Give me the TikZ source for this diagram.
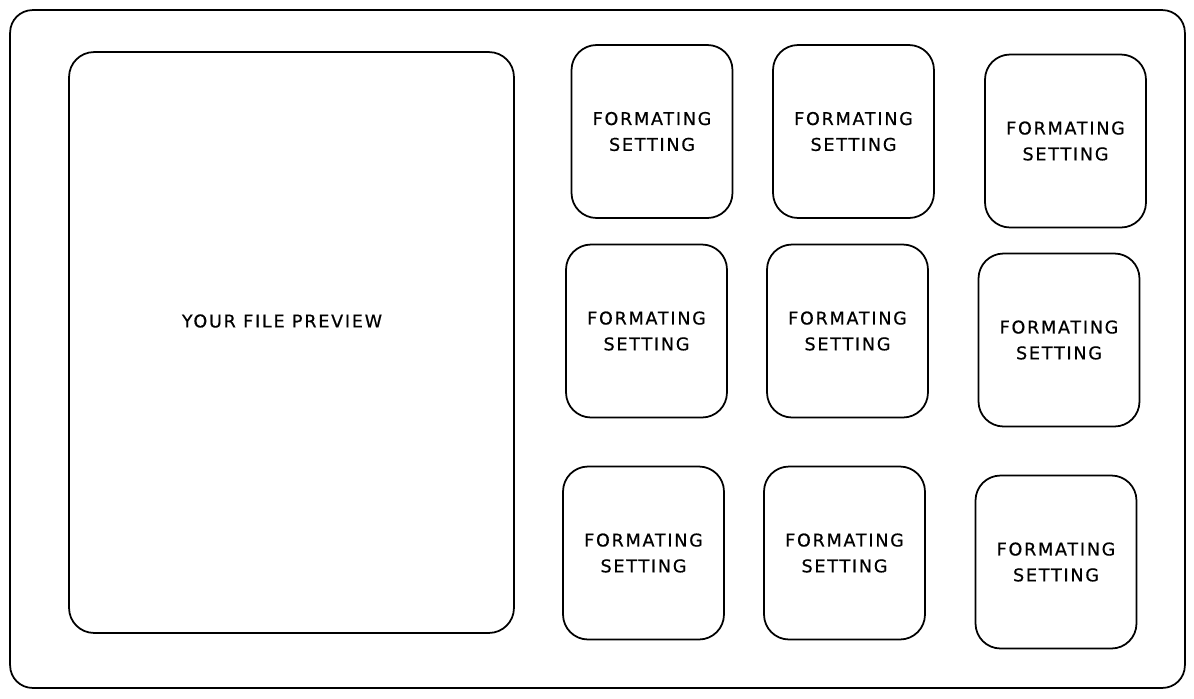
\documentclass[tikz,border=0pt]{standalone}
\usepackage{fontspec}
\setmainfont[LetterSpace=10, FakeBold=0.6]{DejaVu Sans}
\usetikzlibrary{positioning}

\begin{document}
\begin{tikzpicture}[
  x=0.02cm, y=-0.02cm,
  frame/.style={draw, line width=1pt, rounded corners=.5cm},
  setting/.style={frame, minimum width=3.22cm, minimum height=3.46cm,
    align=center, font=\fontsize{10}{14.7}\selectfont},
  label/.style={font=\fontsize{10}{14.7}\selectfont}]

  \useasboundingbox (0,0) rectangle (1194,698);

  % window and preview
  \node[frame, rounded corners=.45cm, minimum width=23.5cm, minimum height=13.56cm] (window) at (597.5,349) {};
  \node[frame, minimum width=8.9cm, minimum height=11.62cm] (preview) at (291.5,342.5) {};
  \node[label] (previewtext) at (282,321) {YOUR FILE PREVIEW};

  % setting tiles
  \node[setting] (set1) at (652,131.5) {FORMATING\\SETTING};
  \node[setting] (set2) at (853.5,131.5) {FORMATING\\SETTING};
  \node[setting] (set3) at (1065.5,141) {FORMATING\\SETTING};
  \node[setting] (set4) at (646.5,331) {FORMATING\\SETTING};
  \node[setting] (set5) at (847.5,331) {FORMATING\\SETTING};
  \node[setting] (set6) at (1059,340) {FORMATING\\SETTING};
  \node[setting] (set7) at (643.5,553) {FORMATING\\SETTING};
  \node[setting] (set8) at (844.5,553) {FORMATING\\SETTING};
  \node[setting] (set9) at (1056,562) {FORMATING\\SETTING};
\end{tikzpicture}
\end{document}
